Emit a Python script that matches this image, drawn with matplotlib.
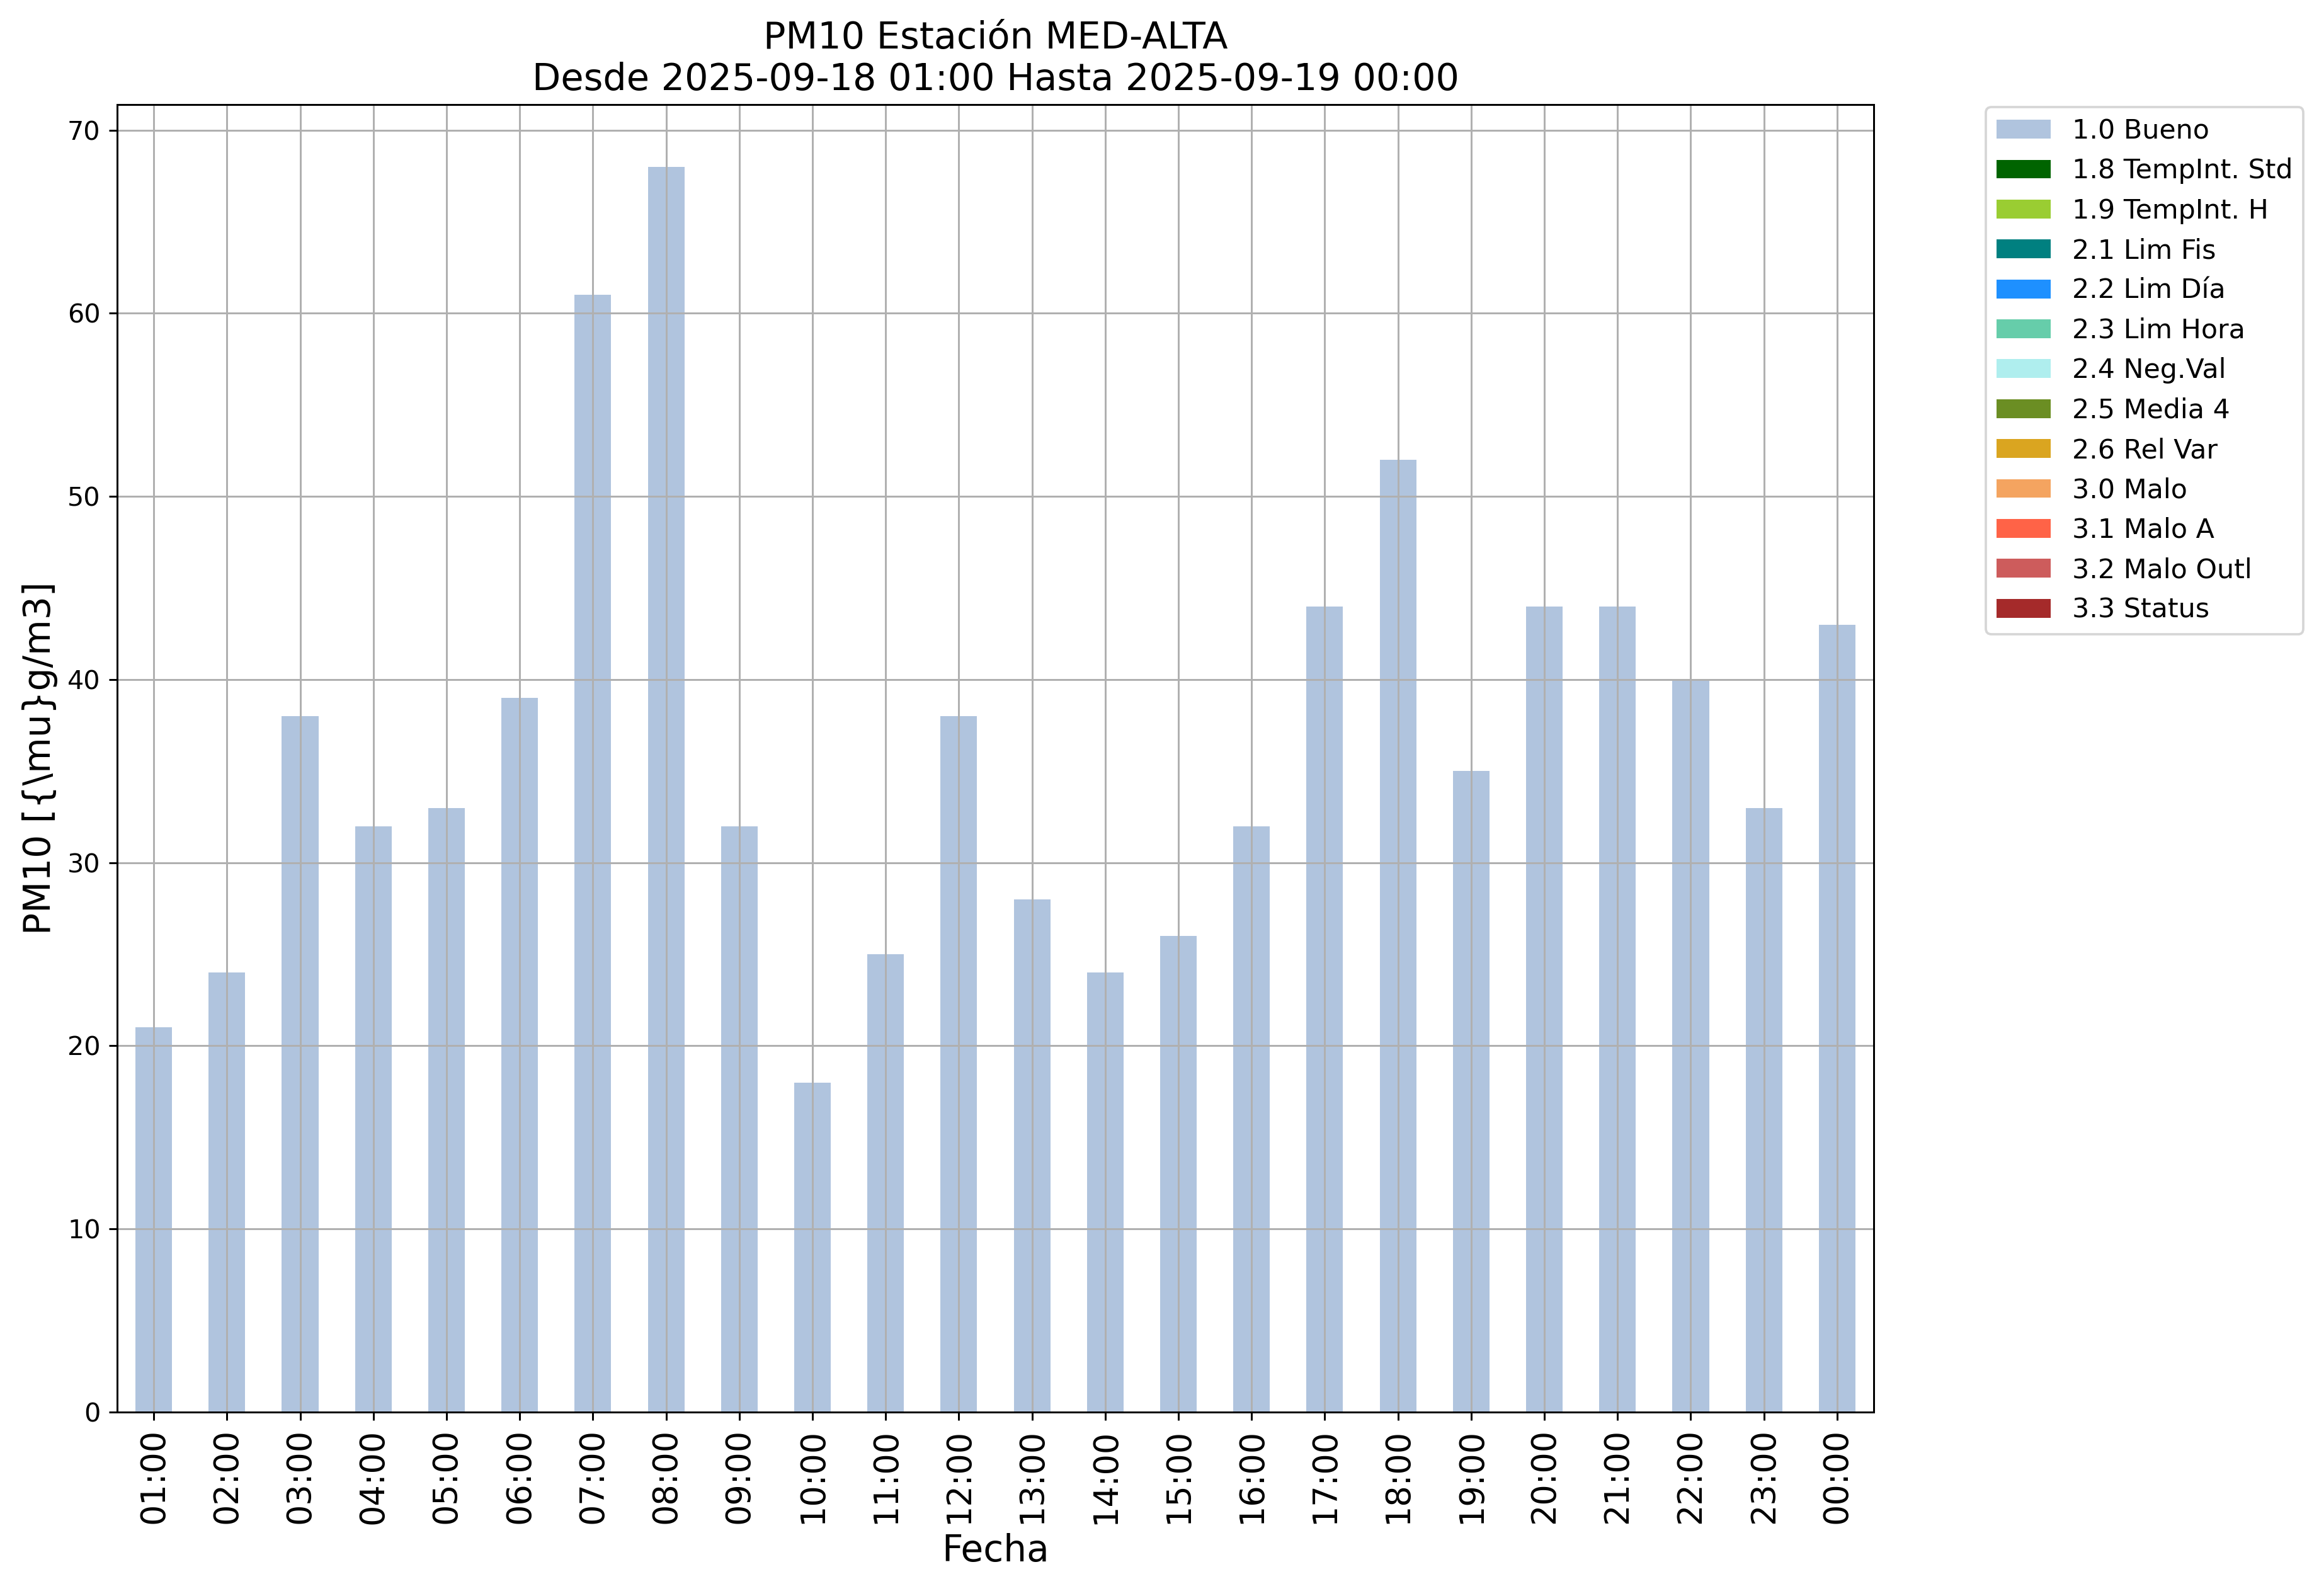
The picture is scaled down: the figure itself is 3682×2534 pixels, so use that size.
import matplotlib

matplotlib.use("Agg")
import matplotlib.pyplot as plt
import numpy as np

hours = ["01:00", "02:00", "03:00", "04:00", "05:00", "06:00", "07:00", "08:00",
         "09:00", "10:00", "11:00", "12:00", "13:00", "14:00", "15:00", "16:00",
         "17:00", "18:00", "19:00", "20:00", "21:00", "22:00", "23:00", "00:00"]
pm10 = [21, 24, 38, 32, 33, 39, 61, 68, 32, 18, 25, 38,
        28, 24, 26, 32, 44, 52, 35, 44, 44, 40, 33, 43]
flags = ["1.0 Bueno"] * len(hours)

categories = ["1.0 Bueno", "1.8 TempInt. Std", "1.9 TempInt. H", "2.1 Lim Fis",
              "2.2 Lim Día", "2.3 Lim Hora", "2.4 Neg.Val", "2.5 Media 4",
              "2.6 Rel Var", "3.0 Malo", "3.1 Malo A", "3.2 Malo Outl", "3.3 Status"]
cat_colors = ["lightsteelblue", "darkgreen", "yellowgreen", "teal", "dodgerblue",
              "mediumaquamarine", "paleturquoise", "olivedrab", "goldenrod",
              "sandybrown", "tomato", "indianred", "brown"]

DPI = 270
W, H = 3682, 2534
fig = plt.figure(figsize=(W / DPI, H / DPI), dpi=DPI)
ax = fig.add_axes([186 / W, 1 - 2242 / H, (2975 - 186) / W, (2242 - 166) / H])

x = np.arange(len(hours))
values = np.array(pm10, dtype=float)
bottom = np.zeros(len(hours))
for cat, color in zip(categories, cat_colors):
    part = np.where(np.array(flags) == cat, values, 0.0)
    ax.bar(x, part, width=0.5, bottom=bottom, color=color, label=cat)
    bottom += part

ax.set_xlim(-0.5, len(hours) - 0.5)
ax.set_ylim(0, values.max() * 1.05)
ax.set_xticks(x)
ax.set_xticklabels(hours, rotation=90, fontsize=14)
ax.tick_params(axis="y", labelsize=11)
ax.grid(True)
ax.set_xlabel("Fecha", fontsize=15.5)
ax.set_ylabel("PM10 [{\\mu}g/m3]", fontsize=15.5)
ax.set_title("PM10 Estación MED-ALTA\nDesde 2025-09-18 01:00 Hasta 2025-09-19 00:00", fontsize=15.7)

ax.legend(loc="upper left", bbox_to_anchor=(3153 / W, 1 - 170 / H),
          bbox_transform=fig.transFigure, borderaxespad=0, fontsize=11.4)

fig.savefig("out.png", dpi=DPI)
